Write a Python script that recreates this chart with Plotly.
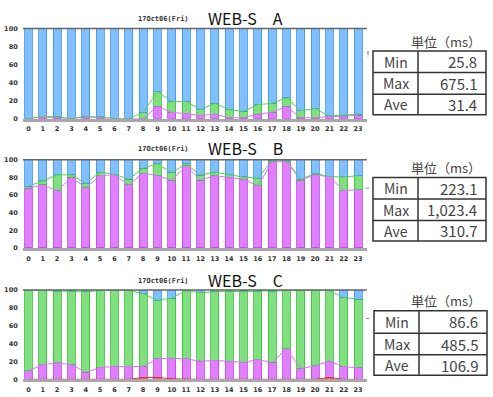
import plotly.graph_objects as go

W, H = 493, 397

hours = list(range(24))
hour_labels = [str(h) for h in hours]
y_ticks = [0, 20, 40, 60, 80, 100]

# Cumulative share levels (%)
A_magenta = [0, 2, 1, 0, 2, 1, 0, 0, 0, 13.5, 7, 5.5, 3.5, 5, 1, 1, 5, 7, 13.5, 1, 1, 2.5, 2.5, 4]
A_green = [0, 2.5, 2, 0, 2, 2, 0, 0, 7, 30, 19, 19, 10, 17, 10, 8, 15.5, 17, 23, 9, 11, 3, 4, 5]

B_magenta = [68, 71.5, 65, 80, 68.5, 82, 83, 71.5, 85, 82, 77, 93.5, 77, 82, 80, 78, 70.5, 97.5, 98, 77, 83, 80.5, 65, 66]
B_green = [70, 76, 83, 83, 73, 86, 83.5, 78, 90.5, 95.5, 85.5, 95.5, 82.5, 86, 83, 80.5, 79, 99, 99, 78, 84.5, 81, 80.5, 82]

C_red = [0, 0, 0, 0, 0, 0, 0, 0, 2, 2, 0.5, 0, 0, 0, 0, 0, 0, 0, 0, 0, 0, 2, 0, 0]
C_magenta = [9.5, 16.5, 18.3, 16.5, 8, 13, 14.5, 14, 14.7, 23, 23.5, 23, 20.2, 21.2, 20.2, 19, 22, 19, 34, 12, 15, 20.5, 14, 13]
C_green = [100, 100, 99, 98.5, 98, 99.5, 100, 100, 96, 88.7, 91, 99.5, 97, 98, 99, 98, 99, 99, 99.5, 100, 100, 99.5, 91.5, 90]

panel_names = ["WEB-S\u3000A", "WEB-S\u3000B", "WEB-S\u3000C"]
date_label = "17Oct06(Fri)"
stat_names = ["Min", "Max", "Ave"]
stat_values = [["25.8", "675.1", "31.4"],
               ["223.1", "1,023.4", "310.7"],
               ["86.6", "485.5", "106.9"]]
unit_label = "単位（ms）"

# colours
BLUE, BLUE_E = "#80c0ff", "#3a8ff0"
GREEN, GREEN_E = "#80e080", "#33c033"
MAG, MAG_E = "#e080ff", "#c040f0"
RED, RED_E = "#ff6060", "#e02020"
GREEN_L, MAG_L, RED_L = "#55d055", "#e070ff", "#e03030"

def px_x(p):
    return p / W

def px_y(p):
    return 1 - p / H

# plot areas in pixels (top, bottom)
plot_rows = [(25, 117), (159, 249), (292, 383)]
plot_left, plot_right = 23, 367
table_geo = [
    dict(l=373, r=486, c=418, rows=[48, 70, 92, 113], hy=38),
    dict(l=373, r=486, c=418, rows=[177, 199, 221, 242], hy=167),
    dict(l=374, r=487, c=419, rows=[313, 336, 358, 379], hy=303),
]
title_y = [14, 147, 282]
edge_mark_y = [(48, 53), (188, 188), (321, 321)]

fig = go.Figure()
layout = dict(width=W, height=H, margin=dict(l=0, r=0, t=0, b=0),
              paper_bgcolor="white", plot_bgcolor="white",
              barmode="stack", showlegend=False, bargap=0.45)

panels = [
    (None, A_magenta, A_green),
    (None, B_magenta, B_green),
    (C_red, C_magenta, C_green),
]

shapes = []
annotations = []

for i, (red, mag, grn) in enumerate(panels):
    xa = "x" if i == 0 else f"x{i+1}"
    ya = "y" if i == 0 else f"y{i+1}"
    base = [0] * 24 if red is None else red
    segs = []
    if red is not None:
        segs.append((red, RED, RED_E))
    segs.append(([m - b for m, b in zip(mag, base)], MAG, MAG_E))
    segs.append(([g - m for g, m in zip(grn, mag)], GREEN, GREEN_E))
    segs.append(([100 - g for g in grn], BLUE, BLUE_E))
    for vals, col, edge in segs:
        fig.add_trace(go.Bar(x=hours, y=vals, xaxis=xa, yaxis=ya,
                             marker=dict(color=col, line=dict(color=edge, width=0.8)),
                             hoverinfo="skip"))
    if red is not None:
        fig.add_trace(go.Scatter(x=hours, y=red, xaxis=xa, yaxis=ya, mode="lines",
                                 line=dict(color=RED_L, width=1)))
    fig.add_trace(go.Scatter(x=hours, y=mag, xaxis=xa, yaxis=ya, mode="lines",
                             line=dict(color=MAG_L, width=1)))
    fig.add_trace(go.Scatter(x=hours, y=grn, xaxis=xa, yaxis=ya, mode="lines",
                             line=dict(color=GREEN_L, width=1)))

    top, bot = plot_rows[i]
    xkey = "xaxis" if i == 0 else f"xaxis{i+1}"
    ykey = "yaxis" if i == 0 else f"yaxis{i+1}"
    layout[xkey] = dict(domain=[px_x(plot_left), px_x(plot_right)], anchor=ya,
                        range=[-0.38, 23.62], tickmode="array", tickvals=hours,
                        ticktext=hour_labels, showgrid=False, zeroline=False,
                        showline=True, linecolor="#a8a8a8", linewidth=3,
                        ticks="outside", ticklen=0, ticklabelstandoff=2,
                        tickfont=dict(family="DejaVu Sans", size=6.5, color="#333", weight="bold"))
    layout[ykey] = dict(domain=[px_y(bot), px_y(top)], anchor=xa, range=[0, 100],
                        tickmode="array", tickvals=y_ticks, showgrid=False,
                        zeroline=False, showline=False, ticks="outside", ticklen=0,
                        ticklabelstandoff=3,
                        tickfont=dict(family="DejaVu Sans", size=6.5, color="#333", weight="bold"))
    # top border line of plot
    shapes.append(dict(type="line", xref=f"{xa} domain", yref=f"{ya} domain",
                       x0=0, x1=1, y0=1, y1=1, line=dict(color="#666", width=1.5)))
    # small mark at right edge
    my0, my1 = edge_mark_y[i]
    if my0 == my1:
        shapes.append(dict(type="line", xref="paper", yref="paper",
                           x0=px_x(366), x1=px_x(369), y0=px_y(my0), y1=px_y(my0),
                           line=dict(color="#888", width=1)))
    else:
        shapes.append(dict(type="line", xref="paper", yref="paper",
                           x0=px_x(368), x1=px_x(368), y0=px_y(my0), y1=px_y(my1 - 1.5),
                           line=dict(color="#666", width=1)))
        shapes.append(dict(type="line", xref="paper", yref="paper",
                           x0=px_x(368), x1=px_x(368), y0=px_y(my1 - 0.5), y1=px_y(my1 + 0.5),
                           line=dict(color="#666", width=1)))

    # titles
    annotations.append(dict(text=date_label, x=px_x(163), y=px_y(title_y[i] + 1), xref="paper",
                            yref="paper", showarrow=False, xanchor="center", yanchor="middle",
                            font=dict(family="DejaVu Sans Mono", size=7, color="#333", weight="bold")))
    annotations.append(dict(text=panel_names[i], x=px_x(245), y=px_y(title_y[i]), xref="paper",
                            yref="paper", showarrow=False, xanchor="center", yanchor="middle",
                            font=dict(family="Noto Sans CJK JP", size=16, color="#111")))

    # table
    g = table_geo[i]
    lc = dict(color="#333", width=1.5)
    shapes.append(dict(type="rect", xref="paper", yref="paper",
                       x0=px_x(g["l"]), x1=px_x(g["r"]), y0=px_y(g["rows"][3]), y1=px_y(g["rows"][0]),
                       line=lc, fillcolor="white", layer="below"))
    for ry in g["rows"][1:3]:
        shapes.append(dict(type="line", xref="paper", yref="paper",
                           x0=px_x(g["l"]), x1=px_x(g["r"]), y0=px_y(ry), y1=px_y(ry), line=lc))
    shapes.append(dict(type="line", xref="paper", yref="paper",
                       x0=px_x(g["c"]), x1=px_x(g["c"]), y0=px_y(g["rows"][0]), y1=px_y(g["rows"][3]),
                       line=lc))
    annotations.append(dict(text=unit_label, x=px_x(446), y=px_y(g["hy"]), xref="paper", yref="paper",
                            showarrow=False, xanchor="center", yanchor="middle",
                            font=dict(family="Noto Sans CJK JP", size=13, color="#444")))
    for k in range(3):
        cy = (g["rows"][k] + g["rows"][k + 1]) / 2
        annotations.append(dict(text=stat_names[k], x=px_x((g["l"] + g["c"]) / 2), y=px_y(cy),
                                xref="paper", yref="paper", showarrow=False,
                                xanchor="center", yanchor="middle",
                                font=dict(family="Noto Sans CJK JP", size=14, color="#444")))
        annotations.append(dict(text=stat_values[i][k], x=px_x(g["r"] - 7), y=px_y(cy),
                                xref="paper", yref="paper", showarrow=False,
                                xanchor="right", yanchor="middle",
                                font=dict(family="Noto Sans CJK JP", size=15, color="#444")))

layout["shapes"] = shapes
layout["annotations"] = annotations
fig.update_layout(**layout)
fig.write_html("out.html", config={"displayModeBar": False},
               post_script="document.body.style.margin='0px';document.body.style.overflow='hidden';")
